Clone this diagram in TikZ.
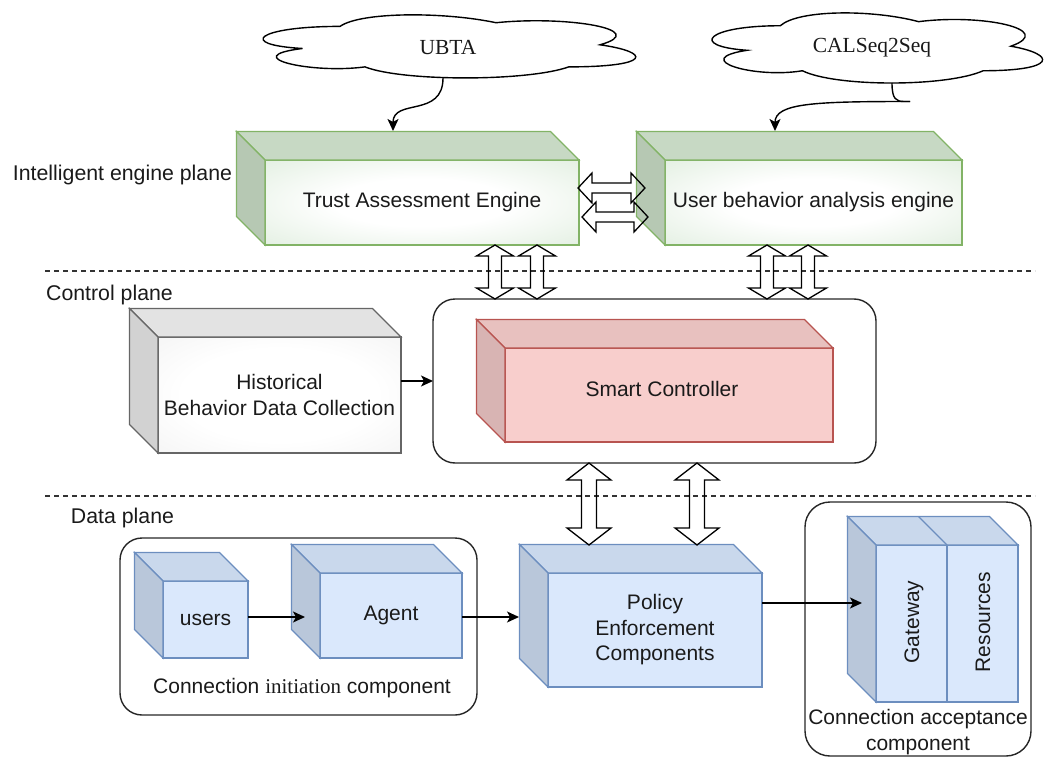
\documentclass[tikz,border=0pt]{standalone}
\usepackage{fontspec}
\setmainfont{Liberation Sans}
\newfontfamily\serfont{Liberation Serif}
\usetikzlibrary{arrows.meta,calc}

\definecolor{gstroke}{HTML}{82B366}
\definecolor{gfill}{HTML}{D2E6D0}
\definecolor{gtop}{HTML}{C7D9C4}
\definecolor{gside}{HTML}{B6C8B3}
\definecolor{rstroke}{HTML}{B85450}
\definecolor{rfill}{HTML}{F8CECC}
\definecolor{rtop}{HTML}{E8C1BF}
\definecolor{rside}{HTML}{D8B4B3}
\definecolor{bstroke}{HTML}{6C8EBF}
\definecolor{bfill}{HTML}{DAE8FC}
\definecolor{btop}{HTML}{C9D8EC}
\definecolor{bside}{HTML}{B9C7DA}
\definecolor{kstroke}{HTML}{666666}
\definecolor{kedge}{HTML}{EDEDED}
\definecolor{ktop}{HTML}{E3E3E3}
\definecolor{kside}{HTML}{D2D2D2}
\definecolor{txt}{HTML}{1A1A1A}

\pgfdeclareradialshading{greenglow}{\pgfpoint{0bp}{0bp}}{color(0bp)=(white); color(14bp)=(white); color(50bp)=(gfill); color(75bp)=(gfill)}
\pgfdeclareradialshading{greyglow}{\pgfpoint{0bp}{0bp}}{color(0bp)=(white); color(20bp)=(white); color(50bp)=(kedge); color(75bp)=(kedge)}

\newcommand\cubefaces[4]{%
  \draw[face, draw=#4, fill=#2] (#1.north west) -- ++(-28.5,-28.5) -- ($(#1.north east)+(-28.5,-28.5)$) -- (#1.north east) -- cycle;
  \draw[face, draw=#4, fill=#3] (#1.north west) -- ++(-28.5,-28.5) -- ($(#1.south west)+(-28.5,-28.5)$) -- (#1.south west) -- cycle;
}
\newcommand\dblV[6]{%
  \draw[dblarr] (#1,#2) -- (#1+#5,#2+#6) -- (#1+#4,#2+#6) -- (#1+#4,#3-#6) -- (#1+#5,#3-#6) -- (#1,#3) -- (#1-#5,#3-#6) -- (#1-#4,#3-#6) -- (#1-#4,#2+#6) -- (#1-#5,#2+#6) -- cycle;}
\newcommand\dblH[6]{%
  \draw[dblarr] (#2,#1) -- (#2+#6,#1-#5) -- (#2+#6,#1-#4) -- (#3-#6,#1-#4) -- (#3-#6,#1-#5) -- (#3,#1) -- (#3-#6,#1+#5) -- (#3-#6,#1+#4) -- (#2+#6,#1+#4) -- (#2+#6,#1+#5) -- cycle;}
\newcommand\drawiocloud{%
  (0.25,0.25) .. controls (0.05,0.25) and (0,0.5) .. (0.16,0.55)
  .. controls (0,0.66) and (0.18,0.9) .. (0.31,0.8)
  .. controls (0.4,1) and (0.7,1) .. (0.8,0.8)
  .. controls (1,0.8) and (1,0.6) .. (0.875,0.5)
  .. controls (1,0.3) and (0.8,0.1) .. (0.625,0.2)
  .. controls (0.5,0.05) and (0.3,0.05) .. (0.25,0.25) -- cycle}

\begin{document}
\begin{tikzpicture}[x=1pt,y=-1pt,
  every node/.style={font=\fontsize{21}{25.5}\selectfont, text=txt, inner sep=0pt, outer sep=0pt},
  face/.style={line width=1.2pt, line join=miter},
  gfront/.style={face, draw=gstroke, shading=greenglow},
  kfront/.style={face, draw=kstroke, shading=greyglow},
  rfront/.style={face, draw=rstroke, fill=rfill},
  bfront/.style={face, draw=bstroke, fill=bfill},
  container/.style={draw=black!85, line width=1.4pt, rounded corners=22pt},
  arr/.style={draw=black, line width=1.4pt, -{Stealth[length=12pt,width=11pt,inset=3pt]}},
  dblarr/.style={draw=black, line width=1.3pt, line join=miter},
  planeline/.style={draw=black!80, line width=1.3pt, dash pattern=on 5pt off 4pt},
  cloudline/.style={draw=black, line width=1.4pt, fill=white},
  planelabel/.style={font=\fontsize{21.3}{25}\selectfont},
  serlabel/.style={font=\serfont\fontsize{21.5}{26}\selectfont}
]
\useasboundingbox (0,0) rectangle (1052,757);

% plane separators
\draw[planeline] (45,271) -- (1035,271);
\draw[planeline] (45,496) -- (1035,496);

% plane labels
\node[planelabel] (lblint) at (122.5,175) {Intelligent engine plane};
\node[planelabel] (lblctl) at (109.5,295) {Control plane};
\node[planelabel] (lbldat) at (122.5,518) {Data plane};

% clouds
\begin{scope}[shift={(236,8)}, xscale=416, yscale=73.6]
  \draw[cloudline] \drawiocloud;
\end{scope}
\node[serlabel] (ubta) at (448,48) {UBTA};
\begin{scope}[shift={(688,5.3)}, xscale=369, yscale=81.8]
  \draw[cloudline] \drawiocloud;
\end{scope}
\node[serlabel] (cal) at (872,48) {CALSeq2Seq};

% intelligent engine plane
\node[gfront, minimum width=314pt, minimum height=85pt] (tae) at (422,202.5) {Trust Assessment Engine};
\cubefaces{tae}{gtop}{gside}{gstroke}
\node[gfront, minimum width=297pt, minimum height=85pt] (ubae) at (813.5,202.5) {User behavior analysis engine};
\cubefaces{ubae}{gtop}{gside}{gstroke}

% control plane
\node[container, minimum width=443pt, minimum height=164pt] (ctrlbox) at (654.5,381) {};
\node[rfront, minimum width=328pt, minimum height=94pt] (smart) at (669,395) {};
\cubefaces{smart}{rtop}{rside}{rstroke}
\node (smarttxt) at (662,389) {Smart Controller};
\node[kfront, minimum width=243pt, minimum height=116pt, align=center] (hist) at (279.5,395) {Historical\\Behavior Data Collection};
\cubefaces{hist}{ktop}{kside}{kstroke}

% data plane
\node[container, minimum width=357pt, minimum height=177pt] (initbox) at (298.5,626.5) {};
\node[container, rounded corners=25pt, minimum width=226pt, minimum height=254pt] (accbox) at (918,629) {};
\node[bfront, minimum width=85pt, minimum height=77pt] (users) at (205.5,619.5) {users};
\cubefaces{users}{btop}{bside}{bstroke}
\node[bfront, minimum width=142pt, minimum height=85pt] (agent) at (391,615.5) {Agent};
\cubefaces{agent}{btop}{bside}{bstroke}
\node[bfront, minimum width=214pt, minimum height=114pt, align=center] (pec) at (655,630) {Policy\\Enforcement\\Components};
\cubefaces{pec}{btop}{bside}{bstroke}
\node[bfront, minimum width=71pt, minimum height=157pt] (gw) at (911.5,623.5) {};
\node[bfront, minimum width=71pt, minimum height=157pt] (res) at (982.5,623.5) {};
\draw[face, draw=bstroke, fill=btop] (gw.north west) -- ++(-28.5,-28.5) -- ($(res.north east)+(-28.5,-28.5)$) -- (res.north east) -- cycle;
\draw[face, draw=bstroke] (gw.north east) -- ++(-28.5,-28.5);
\draw[face, draw=bstroke, fill=bside] (gw.north west) -- ++(-28.5,-28.5) -- ($(gw.south west)+(-28.5,-28.5)$) -- (gw.south west) -- cycle;
\node[rotate=90] (gwtxt) at (914,622) {Gateway};
\node[rotate=90] (restxt) at (983,622) {Resources};
\node (inittxt) at (302,688) {Connection {\serfont initiation} component};
\node[align=center] (acctxt) at (918,732) {Connection acceptance\\component};

% connectors
\coordinate (ubtaout) at (443,78);
\coordinate (taein) at (393,131);
\draw[arr] (ubtaout) .. controls (443,118) and (393,98) .. (taein);
\coordinate (calout) at (892,83);
\coordinate (calknee) at (910,101.5);
\coordinate (ubaein) at (775,131);
\draw[line width=1.4pt] (calout) .. controls (892,99) and (896,101.5) .. (904,101.5) -- (calknee);
\draw[arr] (calknee) .. controls (815,101.5) and (775,103) .. (ubaein);

\draw[arr] (hist.east |- ctrlbox.west) -- (ctrlbox.west);
\coordinate (agentin) at (305,617);
\draw[arr] (users.east |- agentin) -- (agentin);
\coordinate (pecin) at (519,617);
\draw[arr] (agent.east |- pecin) -- (pecin);
\coordinate (gwin) at (862,603);
\draw[arr] (pec.east |- gwin) -- (gwin);

% double arrows
\dblH{188}{578}{645}{5}{15}{14}
\dblH{217}{582}{648}{5}{15}{14}
\dblV{495}{245}{299}{6.5}{18.5}{11}
\dblV{537}{245}{299}{6.5}{18.5}{11}
\dblV{767}{245}{299}{6.5}{18.5}{11}
\dblV{808}{245}{299}{6.5}{18.5}{11}
\dblV{589}{463}{545}{7.5}{22}{17}
\dblV{697}{463}{545}{7.5}{22}{17}
\end{tikzpicture}
\end{document}
